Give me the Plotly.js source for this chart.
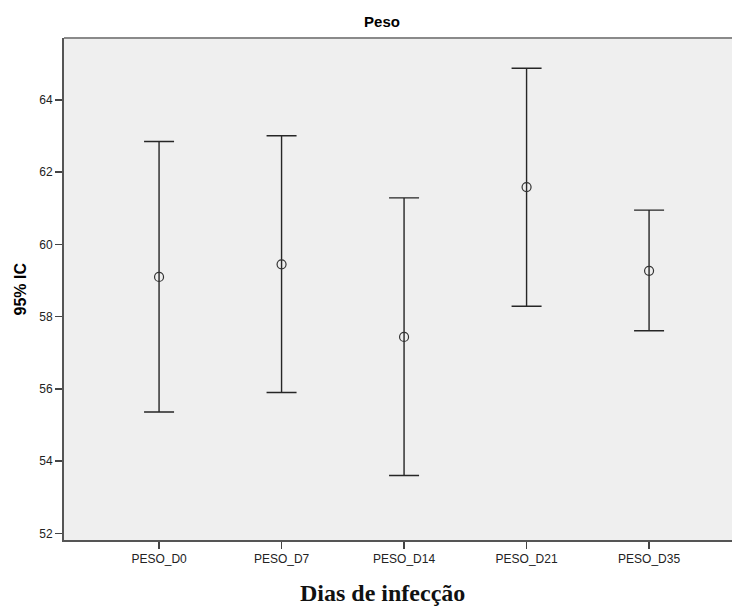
<!DOCTYPE html>
<html>
<head>
<meta charset="utf-8">
<script src="https://cdn.plot.ly/plotly-3.0.1.min.js"></script>
<style>html,body{margin:0;padding:0;background:#fff;}#chart{width:732px;height:607px;}</style>
</head>
<body>
<div id="chart"></div>
<script>
const categories = ["PESO_D0", "PESO_D7", "PESO_D14", "PESO_D21", "PESO_D35"];
const means = [59.10, 59.45, 57.44, 61.59, 59.27];
const upper = [62.85, 63.01, 61.29, 64.88, 60.95];
const lower = [55.36, 55.90, 53.60, 58.29, 57.61];
const yTicks = [52, 54, 56, 58, 60, 62, 64];

const plusErr = means.map((m, i) => upper[i] - m);
const minusErr = means.map((m, i) => m - lower[i]);
const xIdx = categories.map((c, i) => i);

const trace = {
  type: "scatter",
  mode: "markers",
  x: xIdx,
  y: means,
  marker: {symbol: "circle-open", size: 9, color: "#333", line: {width: 1.2, color: "#333"}},
  error_y: {
    type: "data", symmetric: false, array: plusErr, arrayminus: minusErr,
    color: "#262626", thickness: 1.4, width: 15
  },
  hoverinfo: "skip",
  showlegend: false
};

const layout = {
  width: 732, height: 607,
  margin: {l: 64, r: 0, t: 38, b: 67, pad: 0},
  paper_bgcolor: "#ffffff",
  plot_bgcolor: "#efefef",
  font: {family: "Liberation Sans, Arial, sans-serif", color: "#222", size: 12},
  title: {
    text: "Peso",
    font: {family: "Liberation Sans, Arial, sans-serif", size: 15, color: "#000", weight: "bold"},
    x: (382 - 64) / 668, xanchor: "center", xref: "paper",
    y: 1 - 22/607, yanchor: "middle", yref: "container"
  },
  xaxis: {
    range: [-0.776, 4.677],
    tickmode: "array", tickvals: xIdx, ticktext: categories,
    showgrid: false, zeroline: false,
    showline: true, linecolor: "#555", linewidth: 2,
    ticks: "outside", ticklen: 7, tickwidth: 1.5, tickcolor: "#444",
    tickfont: {size: 12, color: "#222"}
  },
  yaxis: {
    range: [51.815, 65.717],
    tickmode: "array", tickvals: yTicks, ticktext: yTicks.map(String),
    showgrid: false, zeroline: false,
    showline: true, linecolor: "#555", linewidth: 2,
    ticks: "outside", ticklen: 7, tickwidth: 1.5, tickcolor: "#444",
    tickfont: {size: 12, color: "#222"}
  },
  shapes: [{
    type: "line", xref: "paper", yref: "paper", x0: 0, x1: 1, y0: 1, y1: 1,
    line: {color: "#8a8a8a", width: 2}
  }],
  annotations: [
    {
      text: "95% IC", textangle: -90, showarrow: false,
      xref: "paper", yref: "paper",
      x: (19.5 - 64) / 668, y: (540 - 289) / 502,
      xanchor: "center", yanchor: "middle",
      font: {family: "Liberation Sans, Arial, sans-serif", size: 16, color: "#000", weight: "bold"}
    },
    {
      text: "Dias de infecção", showarrow: false,
      xref: "paper", yref: "paper",
      x: (382 - 64) / 668, y: (540 - 593) / 502,
      xanchor: "center", yanchor: "middle",
      font: {family: "Liberation Serif, Times New Roman, serif", size: 24, color: "#111", weight: "bold"}
    }
  ]
};

Plotly.newPlot("chart", [trace], layout, {displayModeBar: false, staticPlot: true});
</script>
</body>
</html>
